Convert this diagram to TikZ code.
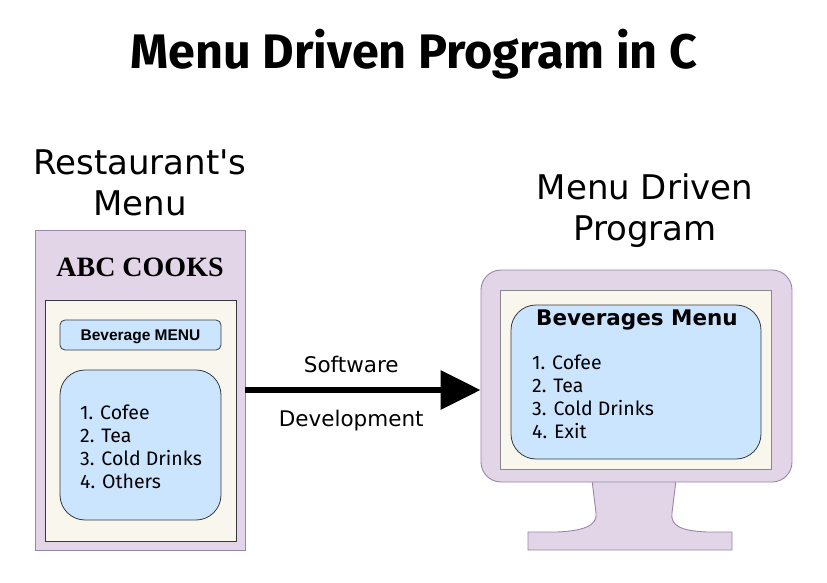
\documentclass[tikz,border=0pt]{standalone}
\usepackage{fontspec}
\setmainfont{DejaVu Sans}
\newfontfamily\titlefont{Fira Sans}
\newfontfamily\listfont{Fira Sans}
\newfontfamily\timesfont{Liberation Serif}
\newfontfamily\arialfont{Liberation Sans}
\usetikzlibrary{arrows.meta}
\definecolor{lilac}{HTML}{E1D5E7}
\definecolor{lilacline}{HTML}{9A86A8}
\definecolor{cream}{HTML}{F9F7ED}
\definecolor{paleblue}{HTML}{CCE5FF}
\definecolor{darkline}{HTML}{36393D}
\tikzset{
  frame/.style={draw=lilacline, fill=lilac, line width=0.9pt, inner sep=0pt},
  paper/.style={draw=darkline, fill=cream, line width=0.8pt, inner sep=0pt},
  bluebox/.style={draw=darkline, fill=paleblue, line width=0.8pt, inner sep=0pt},
  caption/.style={font=\fontsize{34}{41}\selectfont, align=center, inner sep=0pt},
  listtext/.style={font=\listfont\fontsize{19.5}{22.8}\selectfont, align=left, inner sep=0pt, anchor=north west},
  arrowlabel/.style={font=\fontsize{21.5}{25}\selectfont, inner sep=0pt}
}
\begin{document}
\begin{tikzpicture}[x=1pt,y=-1pt]
\useasboundingbox (0,0) rectangle (827,583);
\fill[white] (0,0) rectangle (827,583);

% title
\node[font=\titlefont\bfseries\fontsize{48.5}{52}\selectfont, inner sep=0pt] (title) at (414,54) {Menu Driven Program in C};

% left: restaurant menu
\node[caption] (lcap) at (140,183) {Restaurant\textquotesingle s\\Menu};
\node[frame, minimum width=210, minimum height=320] (menu) at (140,390) {};
\node[font=\timesfont\bfseries\fontsize{28}{32}\selectfont, inner sep=0pt] (abc) at (140,267) {ABC COOKS};
\node[paper, minimum width=191, minimum height=241] (sheet) at (140.5,420.5) {};
\node[bluebox, rounded corners=5pt, minimum width=161, minimum height=30] (bevhead) at (140.5,335) {};
\node[font=\arialfont\bfseries\fontsize{15.5}{18}\selectfont, inner sep=0pt] (bevtext) at (140.5,336.5) {Beverage MENU};
\node[bluebox, rounded corners=25pt, minimum width=161, minimum height=150] (leftlist) at (140.5,445) {};
\node[listtext] (litems) at (80,405) {1. Cofee\\2. Tea\\3. Cold Drinks\\4. Others};

% right: monitor
\node[caption] (rcap) at (645,211) {Menu Driven\\Program};
\draw[draw=lilacline, fill=lilac, line width=0.9pt]
  (592,480) -- (596,513) .. controls (598,526) and (582,531) .. (557,532)
  -- (528,532) -- (528,550) -- (732,550) -- (732,532) -- (707,532)
  .. controls (682,531) and (670,526) .. (672,513) -- (676,480);
\node[frame, rounded corners=20pt, minimum width=311, minimum height=212] (monitor) at (636.5,376) {};
\node[paper, draw=darkline!60, minimum width=271, minimum height=179] (screen) at (635.5,379.5) {};
\node[bluebox, rounded corners=25pt, minimum width=250, minimum height=154] (rightlist) at (636,382) {};
\node[font=\bfseries\fontsize{21.5}{25}\selectfont, inner sep=0pt] (bevmenu) at (637,320) {Beverages Menu};
\node[listtext] (ritems) at (532,355) {1. Cofee\\2. Tea\\3. Cold Drinks\\4. Exit};

% connector
\draw[line width=6.5pt, -{Triangle[length=40pt,width=38pt]}] (menu.east) -- (monitor.west |- menu.east)
  node[arrowlabel, pos=0.45, above=14pt] (sw) {Software}
  node[arrowlabel, pos=0.45, below=17pt] (dev) {Development};
\end{tikzpicture}
\end{document}
